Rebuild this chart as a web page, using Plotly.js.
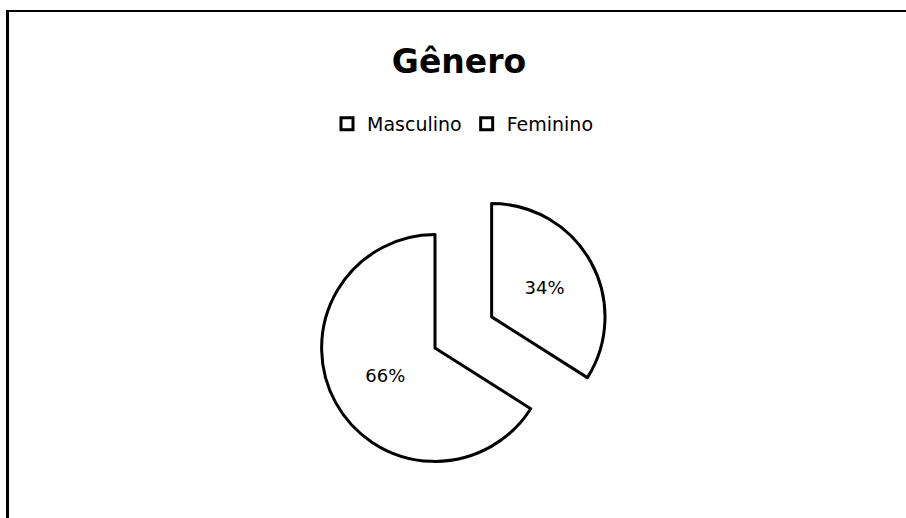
<!DOCTYPE html>
<html>
<head>
<meta charset="utf-8">
<script src="https://cdn.plot.ly/plotly-3.0.1.min.js"></script>
<style>
  html, body { margin: 0; padding: 0; background: #fff; overflow: hidden; width: 906px; height: 518px; }
  #chart { position: absolute; left: 0; top: 0; width: 906px; height: 560px; }
  #frame { position: absolute; left: 6px; top: 10px; width: 920px; height: 600px;
           border-top: 2px solid #000; border-left: 3px solid #000; pointer-events: none; }
</style>
</head>
<body>
<div id="chart"></div>
<div id="frame"></div>
<script>
const categories = ["Masculino", "Feminino"];
const values = [66, 34];
const pulls = [0, 0.57];
const chartTitle = "Gênero";

// Start the first slice so that the second one begins at 12 o'clock (as in the reference)
const total = values.reduce((a, b) => a + b, 0);
const startRotation = 360 * values[1] / total;

const trace = {
  type: "pie",
  labels: categories,
  values: values,
  pull: pulls,
  sort: false,
  direction: "clockwise",
  rotation: startRotation,
  textinfo: "percent",
  texttemplate: "%{percent:.0%}",
  textposition: "inside",
  insidetextorientation: "horizontal",
  textfont: { family: "DejaVu Sans", size: 18, color: "#000" },
  marker: { colors: ["#ffffff", "#ffffff"], line: { color: "#000000", width: 3 } },
  hoverinfo: "none"
};

const layout = {
  width: 906,
  height: 560,
  paper_bgcolor: "#ffffff",
  plot_bgcolor: "#ffffff",
  margin: { l: 257, r: 293, t: 170, b: 34 },
  title: {
    text: chartTitle,
    font: { family: "DejaVu Sans", size: 33, color: "#000", weight: "bold" },
    xref: "container", yref: "container",
    x: 459 / 906, y: 1 - 61 / 560,
    xanchor: "center", yanchor: "middle"
  },
  showlegend: true,
  legend: {
    orientation: "h",
    xref: "container", yref: "container",
    x: 463 / 906, y: 1 - 124 / 560,
    xanchor: "center", yanchor: "middle",
    font: { family: "DejaVu Sans", size: 19, color: "#000" },
    traceorder: "normal",
    bgcolor: "rgba(0,0,0,0)"
  }
};

Plotly.newPlot("chart", [trace], layout, { displayModeBar: false, staticPlot: true });
</script>
</body>
</html>
